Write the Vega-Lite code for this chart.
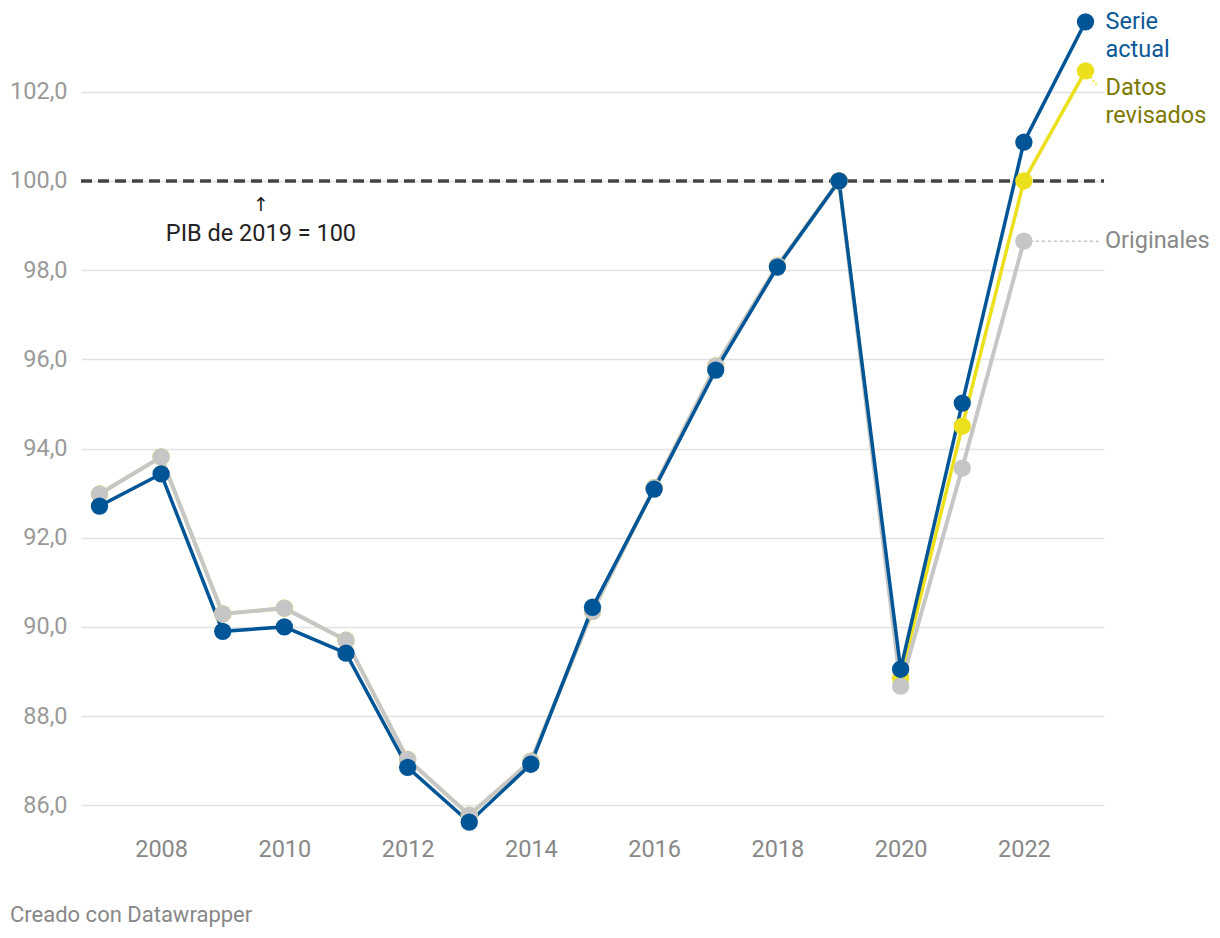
{
  "$schema": "https://vega.github.io/schema/vega-lite/v6.json",
  "width": 1023,
  "height": 816,
  "autosize": "none",
  "padding": {"left": 81, "top": 16, "right": 116, "bottom": 106},
  "background": "white",
  "config": {
    "font": "Roboto",
    "view": {"stroke": null}
  },
  "title": {
    "text": "Creado con Datawrapper",
    "orient": "bottom",
    "anchor": "start",
    "frame": "group",
    "dx": -71,
    "offset": 44,
    "fontSize": 22,
    "fontWeight": "normal",
    "color": "#888888",
    "font": "Roboto"
  },
  "datasets": {
    "series": [
      {"year": 2007, "series": "Serie actual", "value": 92.71},
      {"year": 2008, "series": "Serie actual", "value": 93.43},
      {"year": 2009, "series": "Serie actual", "value": 89.9},
      {"year": 2010, "series": "Serie actual", "value": 90.0},
      {"year": 2011, "series": "Serie actual", "value": 89.41},
      {"year": 2012, "series": "Serie actual", "value": 86.85},
      {"year": 2013, "series": "Serie actual", "value": 85.62},
      {"year": 2014, "series": "Serie actual", "value": 86.92},
      {"year": 2015, "series": "Serie actual", "value": 90.44},
      {"year": 2016, "series": "Serie actual", "value": 93.09},
      {"year": 2017, "series": "Serie actual", "value": 95.76},
      {"year": 2018, "series": "Serie actual", "value": 98.07},
      {"year": 2019, "series": "Serie actual", "value": 100.0},
      {"year": 2020, "series": "Serie actual", "value": 89.05},
      {"year": 2021, "series": "Serie actual", "value": 95.02},
      {"year": 2022, "series": "Serie actual", "value": 100.87},
      {"year": 2023, "series": "Serie actual", "value": 103.57},
      {"year": 2007, "series": "Originales", "value": 92.98},
      {"year": 2008, "series": "Originales", "value": 93.81},
      {"year": 2009, "series": "Originales", "value": 90.29},
      {"year": 2010, "series": "Originales", "value": 90.42},
      {"year": 2011, "series": "Originales", "value": 89.7},
      {"year": 2012, "series": "Originales", "value": 87.03},
      {"year": 2013, "series": "Originales", "value": 85.78},
      {"year": 2014, "series": "Originales", "value": 86.99},
      {"year": 2015, "series": "Originales", "value": 90.35},
      {"year": 2016, "series": "Originales", "value": 93.12},
      {"year": 2017, "series": "Originales", "value": 95.85},
      {"year": 2018, "series": "Originales", "value": 98.1},
      {"year": 2019, "series": "Originales", "value": 100.0},
      {"year": 2020, "series": "Originales", "value": 88.67},
      {"year": 2021, "series": "Originales", "value": 93.56},
      {"year": 2022, "series": "Originales", "value": 98.65},
      {"year": 2007, "series": "Datos revisados", "value": 92.98},
      {"year": 2008, "series": "Datos revisados", "value": 93.81},
      {"year": 2009, "series": "Datos revisados", "value": 90.29},
      {"year": 2010, "series": "Datos revisados", "value": 90.42},
      {"year": 2011, "series": "Datos revisados", "value": 89.7},
      {"year": 2012, "series": "Datos revisados", "value": 87.03},
      {"year": 2013, "series": "Datos revisados", "value": 85.78},
      {"year": 2014, "series": "Datos revisados", "value": 86.99},
      {"year": 2015, "series": "Datos revisados", "value": 90.35},
      {"year": 2016, "series": "Datos revisados", "value": 93.12},
      {"year": 2017, "series": "Datos revisados", "value": 95.85},
      {"year": 2018, "series": "Datos revisados", "value": 98.1},
      {"year": 2019, "series": "Datos revisados", "value": 100.0},
      {"year": 2020, "series": "Datos revisados", "value": 88.85},
      {"year": 2021, "series": "Datos revisados", "value": 94.5},
      {"year": 2022, "series": "Datos revisados", "value": 100.0},
      {"year": 2023, "series": "Datos revisados", "value": 102.47}
    ],
    "reference": [
      {"label": "PIB de 2019 = 100", "year": 2019, "value": 100}
    ]
  },
  "data": {"name": "series"},
  "encoding": {
    "x": {
      "field": "year",
      "type": "quantitative",
      "scale": {"domain": [2006.7, 2023.3], "nice": false, "zero": false},
      "axis": {
        "title": null,
        "values": [2008, 2010, 2012, 2014, 2016, 2018, 2020, 2022],
        "format": "d",
        "grid": false,
        "domain": false,
        "ticks": false,
        "labelPadding": 5,
        "labelFontSize": 23.5,
        "labelColor": "#888888",
        "labelFont": "Roboto"
      }
    },
    "y": {
      "field": "value",
      "type": "quantitative",
      "scale": {"domain": [85.4, 103.7], "nice": false, "zero": false},
      "axis": {
        "title": null,
        "values": [86, 88, 90, 92, 94, 96, 98, 100, 102],
        "labelExpr": "replace(format(datum.value, '.1f'), '.', ',')",
        "grid": true,
        "gridColor": "#e2e2e2",
        "gridWidth": 1.5,
        "domain": false,
        "ticks": false,
        "labelPadding": 14,
        "labelFontSize": 23.5,
        "labelColor": "#9a9a9a",
        "labelFont": "Roboto"
      }
    }
  },
  "layer": [
    {
      "data": {"name": "reference"},
      "mark": {"type": "rule", "stroke": "#444444", "strokeWidth": 3.5, "strokeDash": [11, 6], "strokeDashOffset": 8},
      "encoding": {"y": {"field": "value", "type": "quantitative"}, "x": null}
    },
    {
      "data": {"name": "reference"},
      "mark": {"type": "text", "font": "DejaVu Sans", "fontSize": 19, "color": "#222222", "align": "center", "baseline": "middle", "dy": 24, "text": "↑"},
      "encoding": {"x": {"datum": 2009.62}, "y": {"field": "value", "type": "quantitative"}}
    },
    {
      "data": {"name": "reference"},
      "mark": {"type": "text", "fontSize": 23.5, "color": "#222222", "align": "center", "baseline": "middle", "dy": 53},
      "encoding": {"x": {"datum": 2009.62}, "y": {"field": "value", "type": "quantitative"}, "text": {"field": "label"}}
    },
    {
      "transform": [{"filter": "datum.series === 'Originales' && datum.year === 2022"}],
      "mark": {"type": "rule", "stroke": "#c4c4c4", "strokeWidth": 1.5, "strokeDash": [3, 3]},
      "encoding": {"x2": {"datum": 2023.21}}
    },
    {
      "transform": [{"filter": "datum.series === 'Datos revisados' && datum.year === 2023"}],
      "mark": {"type": "rule", "stroke": "#ecdf1c", "strokeWidth": 1.5, "strokeDash": [2, 2]},
      "encoding": {"x2": {"datum": 2023.2}, "y2": {"datum": 102.12}}
    },
    {
      "transform": [{"filter": "datum.series === 'Datos revisados'"}],
      "mark": {"type": "line", "stroke": "#ecdf1c", "strokeWidth": 3.5}
    },
    {
      "transform": [{"filter": "datum.series === 'Originales'"}],
      "mark": {"type": "line", "stroke": "#c6c6c6", "strokeWidth": 4}
    },
    {
      "transform": [{"filter": "datum.series === 'Serie actual'"}],
      "mark": {"type": "line", "stroke": "#005596", "strokeWidth": 3.5}
    },
    {
      "transform": [{"filter": "datum.series === 'Datos revisados'"}],
      "mark": {"type": "circle", "fill": "#ecdf1c", "opacity": 1, "size": 300}
    },
    {
      "transform": [{"filter": "datum.series === 'Originales'"}],
      "mark": {"type": "circle", "fill": "#c6c6c6", "opacity": 1, "size": 300}
    },
    {
      "transform": [{"filter": "datum.series === 'Serie actual'"}],
      "mark": {"type": "circle", "fill": "#005596", "opacity": 1, "size": 300}
    },
    {
      "transform": [{"filter": "datum.series === 'Serie actual' && datum.year === 2023"}],
      "mark": {"type": "text", "text": ["Serie", "actual"], "fontSize": 23.5, "color": "#0a5796", "align": "left", "baseline": "middle", "lineHeight": 28, "dx": 20, "dy": 0}
    },
    {
      "transform": [{"filter": "datum.series === 'Datos revisados' && datum.year === 2023"}],
      "mark": {"type": "text", "text": ["Datos", "revisados"], "fontSize": 23.5, "color": "#7d7800", "align": "left", "baseline": "middle", "lineHeight": 28, "dx": 20, "dy": 17}
    },
    {
      "transform": [{"filter": "datum.series === 'Originales' && datum.year === 2022"}],
      "mark": {"type": "text", "text": "Originales", "fontSize": 23.5, "color": "#888888", "align": "left", "baseline": "middle", "dx": 81}
    }
  ]
}
